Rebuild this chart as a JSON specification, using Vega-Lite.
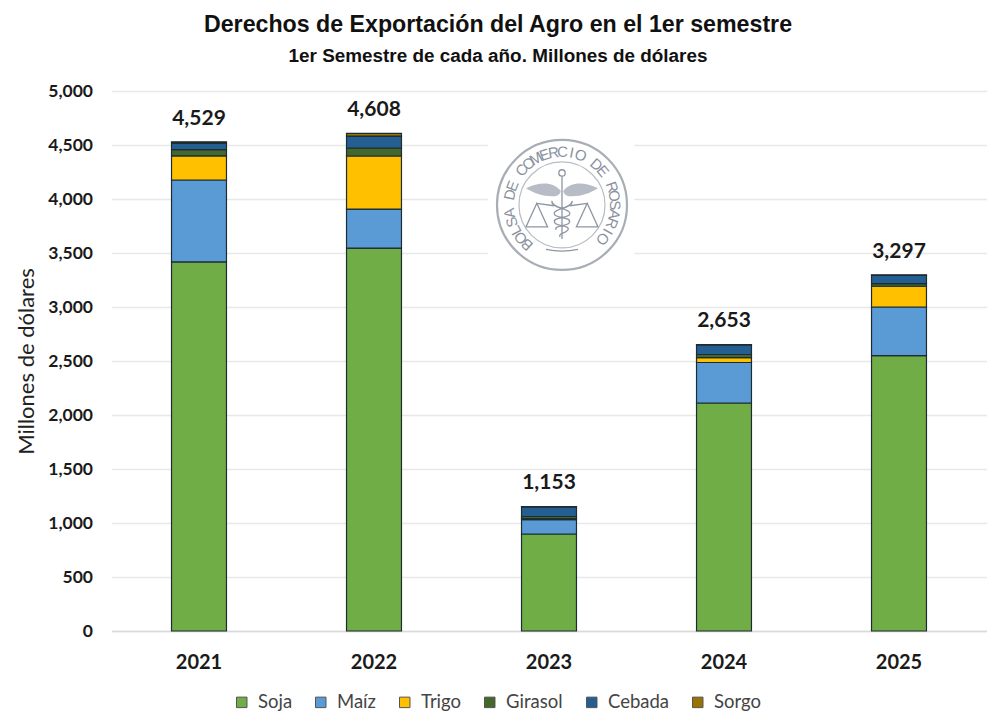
{
  "$schema": "https://vega.github.io/schema/vega-lite/v6.json",
  "width": 875,
  "height": 540,
  "autosize": "none",
  "padding": {"left": 111.5, "top": 91, "right": 13.5, "bottom": 92},
  "background": "white",
  "title": {
    "text": "Derechos de Exportación del Agro en el 1er semestre",
    "subtitle": "1er Semestre de cada año. Millones de dólares",
    "font": "Liberation Sans",
    "fontSize": 23.2,
    "fontWeight": "bold",
    "color": "#111111",
    "subtitleFont": "Liberation Sans",
    "subtitleFontSize": 18.9,
    "subtitleFontWeight": "bold",
    "subtitleColor": "#111111",
    "subtitlePadding": 10,
    "anchor": "middle",
    "dx": -51,
    "offset": 15
  },
  "datasets": {
    "cultivos": [
      {"anio": "2021", "cultivo": "Soja", "n": 1, "v": 3417},
      {"anio": "2021", "cultivo": "Maíz", "n": 2, "v": 759},
      {"anio": "2021", "cultivo": "Trigo", "n": 3, "v": 224},
      {"anio": "2021", "cultivo": "Girasol", "n": 4, "v": 58},
      {"anio": "2021", "cultivo": "Cebada", "n": 5, "v": 60},
      {"anio": "2021", "cultivo": "Sorgo", "n": 6, "v": 11},
      {"anio": "2022", "cultivo": "Soja", "n": 1, "v": 3546},
      {"anio": "2022", "cultivo": "Maíz", "n": 2, "v": 361},
      {"anio": "2022", "cultivo": "Trigo", "n": 3, "v": 491},
      {"anio": "2022", "cultivo": "Girasol", "n": 4, "v": 74},
      {"anio": "2022", "cultivo": "Cebada", "n": 5, "v": 111},
      {"anio": "2022", "cultivo": "Sorgo", "n": 6, "v": 25},
      {"anio": "2023", "cultivo": "Soja", "n": 1, "v": 898},
      {"anio": "2023", "cultivo": "Maíz", "n": 2, "v": 132},
      {"anio": "2023", "cultivo": "Trigo", "n": 3, "v": 10},
      {"anio": "2023", "cultivo": "Girasol", "n": 4, "v": 20},
      {"anio": "2023", "cultivo": "Cebada", "n": 5, "v": 88},
      {"anio": "2023", "cultivo": "Sorgo", "n": 6, "v": 5},
      {"anio": "2024", "cultivo": "Soja", "n": 1, "v": 2111},
      {"anio": "2024", "cultivo": "Maíz", "n": 2, "v": 375},
      {"anio": "2024", "cultivo": "Trigo", "n": 3, "v": 46},
      {"anio": "2024", "cultivo": "Girasol", "n": 4, "v": 28},
      {"anio": "2024", "cultivo": "Cebada", "n": 5, "v": 88},
      {"anio": "2024", "cultivo": "Sorgo", "n": 6, "v": 5},
      {"anio": "2025", "cultivo": "Soja", "n": 1, "v": 2549},
      {"anio": "2025", "cultivo": "Maíz", "n": 2, "v": 451},
      {"anio": "2025", "cultivo": "Trigo", "n": 3, "v": 192},
      {"anio": "2025", "cultivo": "Girasol", "n": 4, "v": 24},
      {"anio": "2025", "cultivo": "Cebada", "n": 5, "v": 76},
      {"anio": "2025", "cultivo": "Sorgo", "n": 6, "v": 5}
    ],
    "totales": [
      {"anio": "2021", "total": 4529},
      {"anio": "2022", "total": 4608},
      {"anio": "2023", "total": 1153},
      {"anio": "2024", "total": 2653},
      {"anio": "2025", "total": 3297}
    ],
    "sello": [
      {"l": "B", "n": 0}, {"l": "O", "n": 1}, {"l": "L", "n": 2}, {"l": "S", "n": 3},
      {"l": "A", "n": 4}, {"l": " ", "n": 5}, {"l": "D", "n": 6}, {"l": "E", "n": 7},
      {"l": " ", "n": 8}, {"l": "C", "n": 9}, {"l": "O", "n": 10}, {"l": "M", "n": 11},
      {"l": "E", "n": 12}, {"l": "R", "n": 13}, {"l": "C", "n": 14}, {"l": "I", "n": 15},
      {"l": "O", "n": 16}, {"l": " ", "n": 17}, {"l": "D", "n": 18}, {"l": "E", "n": 19},
      {"l": " ", "n": 20}, {"l": "R", "n": 21}, {"l": "O", "n": 22}, {"l": "S", "n": 23},
      {"l": "A", "n": 24}, {"l": "R", "n": 25}, {"l": "I", "n": 26}, {"l": "O", "n": 27}
    ]
  },
  "data": {"name": "cultivos"},
  "encoding": {
    "x": {
      "field": "anio",
      "type": "nominal",
      "title": null,
      "scale": {"paddingInner": 0.686, "paddingOuter": 0.343},
      "axis": {
        "labelAngle": 0,
        "labelFont": "Lato",
        "labelFontSize": 20,
        "labelFontWeight": "bold",
        "labelColor": "#1a1a1a",
        "labelPadding": 21,
        "ticks": false,
        "domainColor": "#d9d9d9",
        "domainWidth": 1.5,
        "grid": false
      }
    },
    "y": {
      "type": "quantitative",
      "title": "Millones de dólares",
      "scale": {"domain": [0, 5000]},
      "axis": {
        "values": [0, 500, 1000, 1500, 2000, 2500, 3000, 3500, 4000, 4500, 5000],
        "labelExpr": "format(datum.value, ',')",
        "labelFont": "Lato",
        "labelFontSize": 17.5,
        "labelFontWeight": "bold",
        "labelColor": "#1a1a1a",
        "labelPadding": 19,
        "ticks": false,
        "domain": false,
        "gridColor": "#e8e8e8",
        "gridWidth": 1.5,
        "titleFont": "Lato",
        "titleFontSize": 22,
        "titleFontWeight": "normal",
        "titleColor": "#222222",
        "titlePadding": 9
      }
    }
  },
  "layer": [
    {
      "mark": {"type": "bar", "stroke": "#1d2b33", "strokeWidth": 1.2},
      "encoding": {
        "y": {"field": "v", "type": "quantitative"},
        "order": {"field": "n", "type": "quantitative"},
        "color": {
          "field": "cultivo",
          "type": "nominal",
          "scale": {
            "domain": ["Soja", "Maíz", "Trigo", "Girasol", "Cebada", "Sorgo"],
            "range": ["#70AD47", "#5B9BD5", "#FFC000", "#43682B", "#255E91", "#997300"]
          },
          "legend": {
            "title": null,
            "orient": "none",
            "direction": "horizontal",
            "columns": 6,
            "legendX": 121,
            "legendY": 602,
            "symbolType": "square",
            "symbolSize": 110,
            "symbolStrokeColor": "#555555",
            "symbolStrokeWidth": 1,
            "labelFont": "Lato",
            "labelFontSize": 18.5,
            "labelColor": "#444444",
            "labelOffset": 7,
            "columnPadding": 19
          }
        }
      }
    },
    {
      "data": {"name": "totales"},
      "mark": {
        "type": "text",
        "font": "Lato",
        "fontSize": 21,
        "fontWeight": "bold",
        "color": "#1a1a1a",
        "baseline": "bottom",
        "dy": -13
      },
      "encoding": {
        "y": {"field": "total", "type": "quantitative"},
        "text": {"field": "total", "type": "quantitative", "format": ","}
      }
    },
    {
      "data": {"values": [{"logo": "fondo"}]},
      "mark": {"type": "point", "shape": "square", "filled": true, "fill": "white", "opacity": 1, "size": 21500, "xOffset": 12},
      "encoding": {"x": {"datum": "2023"}, "y": {"datum": 3945}}
    },
    {
      "data": {"values": [{"logo": "aro"}]},
      "mark": {"type": "point", "shape": "circle", "filled": false, "stroke": "#a9aeb6", "strokeWidth": 2.2, "size": 16900, "xOffset": 13, "opacity": 1},
      "encoding": {"x": {"datum": "2023"}, "y": {"datum": 3945}}
    },
    {
      "data": {"values": [{"logo": "aro interior"}]},
      "mark": {"type": "point", "shape": "circle", "filled": false, "stroke": "#b9bdc4", "strokeWidth": 1.2, "size": 7400, "xOffset": 13, "opacity": 1},
      "encoding": {"x": {"datum": "2023"}, "y": {"datum": 3945}}
    },
    {
      "data": {"values": [{"logo": "alas"}]},
      "mark": {
        "type": "point",
        "shape": "M-0.03 -0.35C-0.25 -0.62 -0.6 -0.55 -0.9 -0.42C-0.7 -0.3 -0.5 -0.22 -0.25 -0.22C-0.15 -0.2 -0.05 -0.25 -0.03 -0.35ZM0.03 -0.35C0.25 -0.62 0.6 -0.55 0.9 -0.42C0.7 -0.3 0.5 -0.22 0.25 -0.22C0.15 -0.2 0.05 -0.25 0.03 -0.35Z",
        "filled": true,
        "fill": "#b7bcc6",
        "size": 6400,
        "xOffset": 13,
        "opacity": 1
      },
      "encoding": {"x": {"datum": "2023"}, "y": {"datum": 3945}}
    },
    {
      "data": {"values": [{"logo": "caduceo"}]},
      "mark": {
        "type": "point",
        "shape": "M0 -0.72L0 0.85M-0.08 -0.8A0.08 0.08 0 1 1 0.08 -0.8A0.08 0.08 0 1 1 -0.08 -0.8ZM-0.25 -0.1C-0.3 0.08 0.3 0.1 0.18 0.25C0.05 0.35 -0.25 0.3 -0.18 0.45C-0.1 0.55 0.2 0.5 0.15 0.62C0.1 0.72 -0.1 0.7 -0.05 0.8M0.25 -0.1C0.3 0.08 -0.3 0.1 -0.18 0.25C-0.05 0.35 0.25 0.3 0.18 0.45C0.1 0.55 -0.2 0.5 -0.15 0.62M-0.63 -0.04L-0.9 0.55L-0.36 0.55ZM0.63 -0.04L0.9 0.55L0.36 0.55ZM-0.63 -0.04L-0.2 0.02M0.63 -0.04L0.2 0.02M-0.4 1.11Q0 1.2 0.4 1.11",
        "filled": false,
        "stroke": "#8f96a3",
        "strokeWidth": 1.3,
        "size": 6400,
        "xOffset": 13,
        "opacity": 1
      },
      "encoding": {"x": {"datum": "2023"}, "y": {"datum": 3945}}
    },
    {
      "data": {"name": "sello"},
      "mark": {"type": "text", "font": "Liberation Sans", "fontSize": 15, "color": "#8a919e", "baseline": "middle", "radius": 53, "xOffset": 13},
      "encoding": {
        "x": {"datum": "2023"},
        "y": {"datum": 3945},
        "text": {"field": "l"},
        "theta": {"field": "n", "type": "quantitative", "stack": null, "scale": {"domain": [0, 27], "range": [-2.42, 2.27]}},
        "angle": {"field": "n", "type": "quantitative", "legend": null, "scale": {"domain": [0, 27], "range": [-138, 130]}}
      }
    }
  ],
  "config": {"view": {"stroke": null}}
}
